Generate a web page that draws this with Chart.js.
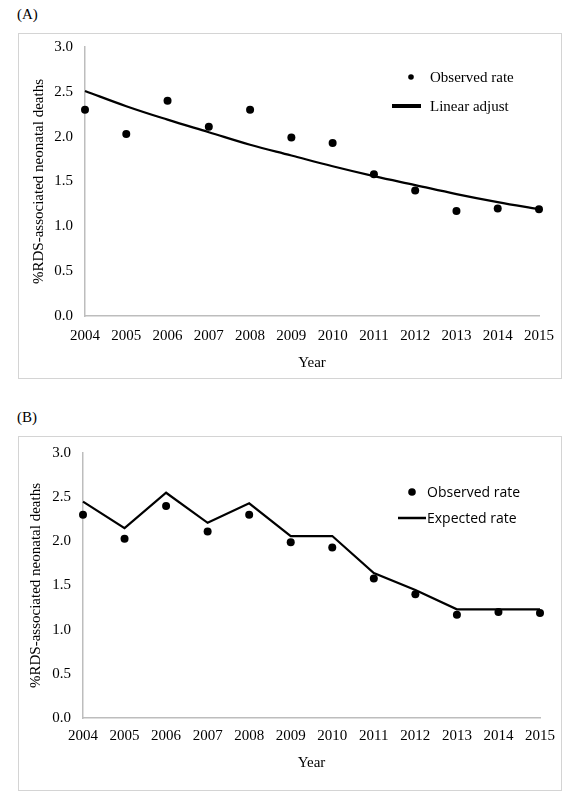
<!DOCTYPE html>
<html>
<head>
<meta charset="utf-8">
<script src="https://cdn.jsdelivr.net/npm/chart.js@4"></script>
<style>
  body { margin: 0; background: #fff; width: 576px; height: 800px; position: relative; font-family: "Liberation Serif", serif; }
  .tag { position: absolute; left: 17px; font-size: 15px; color: #000; }
  .frame { position: absolute; left: 18px; width: 544px; border: 1px solid #d4d4d4; box-sizing: border-box; }
  .frame canvas { position: absolute; left: 0; top: 0; }
</style>
</head>
<body>
<div class="tag" style="top:6px">(A)</div>
<div class="frame" style="top:33px;height:346px"><canvas id="chartA"></canvas></div>
<div class="tag" style="top:409px">(B)</div>
<div class="frame" style="top:436px;height:355px"><canvas id="chartB"></canvas></div>
<script>
const years = ['2004', '2005', '2006', '2007', '2008', '2009', '2010', '2011', '2012', '2013', '2014', '2015'];
const observedRate = [2.30, 2.03, 2.40, 2.11, 2.30, 1.99, 1.93, 1.58, 1.40, 1.17, 1.20, 1.19];
const linearAdjust = [2.51, 2.34, 2.19, 2.05, 1.91, 1.79, 1.67, 1.56, 1.46, 1.36, 1.27, 1.19];
const expectedRate = [2.45, 2.15, 2.55, 2.21, 2.43, 2.06, 2.06, 1.64, 1.45, 1.23, 1.23, 1.23];
const yMin = 0;
const yMax = 3;
const yStep = 0.5;

const SERIF = '"Liberation Serif", "Times New Roman", serif';
const SANS = '"Open Sans", "Noto Sans", sans-serif';

// draws the legend inside the plot, top right, the way the original figure does
const insideLegend = {
  id: 'insideLegend',
  afterDraw(chart, args, opts) {
    const ctx = chart.ctx;
    ctx.save();
    ctx.font = opts.font;
    ctx.fillStyle = '#000';
    ctx.strokeStyle = '#000';
    ctx.textBaseline = 'middle';
    opts.items.forEach((item) => {
      const ds = chart.data.datasets[item.dataset];
      if (item.kind === 'dot') {
        ctx.beginPath();
        ctx.arc(item.x, item.y, item.r, 0, Math.PI * 2);
        ctx.fill();
      } else {
        ctx.lineWidth = item.w;
        ctx.beginPath();
        ctx.moveTo(item.x0, item.y);
        ctx.lineTo(item.x1, item.y);
        ctx.stroke();
      }
      ctx.fillText(ds.label, item.tx, item.y + 1);
    });
    ctx.restore();
  },
};

function createPanel(canvasId, line, cfg) {
  const canvas = document.getElementById(canvasId);
  canvas.width = 542;
  canvas.height = cfg.height;
  canvas.style.width = '542px';
  canvas.style.height = cfg.height + 'px';

  return new Chart(canvas.getContext('2d'), {
    type: 'line',
    data: {
      labels: years,
      datasets: [
        {
          label: 'Observed rate',
          data: observedRate,
          showLine: false,
          pointRadius: 4,
          pointBackgroundColor: '#000',
          pointBorderWidth: 0,
        },
        {
          label: line.label,
          data: line.values,
          borderColor: '#000',
          borderWidth: 2.2,
          pointRadius: 0,
          tension: line.tension,
        },
      ],
    },
    options: {
      responsive: false,
      animation: false,
      layout: { padding: { top: cfg.top, right: cfg.right, left: 0, bottom: 0 } },
      plugins: {
        legend: { display: false },
        tooltip: { enabled: false },
        insideLegend: cfg.legend,
      },
      scales: {
        x: {
          offset: false,
          grid: { display: false },
          border: { display: true, color: '#bdbdbd', width: 1.5 },
          ticks: { color: '#000', font: { family: SERIF, size: 15 }, padding: cfg.xTickPad, maxRotation: 0, autoSkip: false },
          title: { display: true, text: 'Year', color: '#000', font: { family: SERIF, size: 15 }, padding: { top: 0, bottom: cfg.xTitlePad } },
          afterFit(scale) { scale.height = cfg.xHeight; },
        },
        y: {
          min: yMin,
          max: yMax,
          grid: { display: false },
          border: { display: true, color: '#bdbdbd', width: 1.5 },
          ticks: {
            stepSize: yStep,
            color: '#000',
            font: { family: SERIF, size: 15 },
            padding: 4,
            callback: (v) => v.toFixed(1),
          },
          title: { display: true, text: '%RDS-associated neonatal deaths', color: '#000', font: { family: SERIF, size: 15 }, padding: { top: cfg.yTitlePad, bottom: 0 } },
          afterFit(scale) { scale.width = cfg.yWidth; },
        },
      },
    },
    plugins: [insideLegend],
  });
}

createPanel('chartA', { label: 'Linear adjust', values: linearAdjust, tension: 0.4 }, {
  height: 344, top: 12, right: 22, yWidth: 66, xHeight: 62, xTickPad: 3, xTitlePad: 6, yTitlePad: 11,
  legend: {
    font: '15px ' + SERIF,
    items: [
      { dataset: 0, kind: 'dot', x: 392, y: 43, r: 2.8, tx: 411 },
      { dataset: 1, kind: 'line', x0: 373, x1: 402, y: 72, w: 4, tx: 411 },
    ],
  },
});

createPanel('chartB', { label: 'Expected rate', values: expectedRate, tension: 0 }, {
  height: 353, top: 16, right: 21, yWidth: 64, xHeight: 72, xTickPad: 1, xTitlePad: 18, yTitlePad: 8,
  legend: {
    font: '14px ' + SANS,
    items: [
      { dataset: 0, kind: 'dot', x: 393, y: 55, r: 3.8, tx: 408 },
      { dataset: 1, kind: 'line', x0: 379, x1: 407, y: 81, w: 2.5, tx: 408 },
    ],
  },
});
</script>
</body>
</html>
